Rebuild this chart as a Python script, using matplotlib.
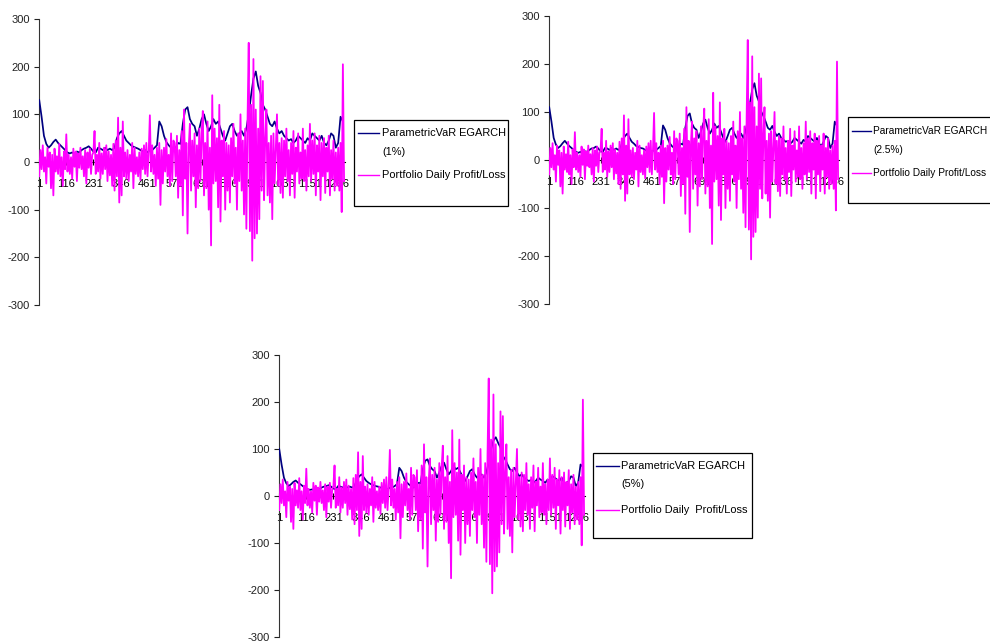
import numpy as np
import matplotlib
matplotlib.use("Agg")
import matplotlib.pyplot as plt
from matplotlib.patches import Rectangle
from matplotlib.lines import Line2D

# ---------------- data ----------------
pnl_step = 5      # one P/L reading every 5 trading days
var_step = 10     # one VaR reading every 10 trading days
n_days = 1300

pnl = [
    -30, 25, -15, 35, -20, 10, -45, 30, -10, 20, -55, 15, -70, 28, -20, 12, -25, 38, -30, 10, -50, 22, -15,
    58, -20, 15, -25, 10, -35, 28, -10, 22, -40, 18, -12, 30, -15, 12, -30, 25, -45, 20, -12, 28, -25, 15,
    20, 65, -25, 15, -20, 40, -35, 18, -25, 30, -15, 35, -40, 22, -28, 15, -50, 38, -60, 45, -30, 93, -85,
    30, -70, 85, -30, 20, -35, 25, -40, 15, -20, 40, -55, 30, -25, 10, -30, 20, -38, 28, -15, 35, -25, 40,
    -30, 20, 98, -20, 35, -25, 15, -50, 30, -35, 40, -90, 25, -45, 30, -20, 48, -30, 15, -50, 60, -40, 45,
    40, -30, 55, -75, 25, -50, 65, -112, 110, -35, 40, -150, 30, 80, -60, 45, -30, 60, -95, 35, -55, 70, -40,
    60, 107, -70, 40, -55, 85, -100, 30, -175, 140, -45, 70, -40, 50, -95, 120, -125, 45, -30, 65, -100, 40, -60,
    35, -85, 50, -30, 80, -45, 30, -100, 60, -40, 100, -60, 45, -110, 70, -140, 90, 250, -145, 120, -207, 216, -160,
    110, -150, 70, -120, 180, -60, 170, -80, 50, 110, -70, 40, -85, 55, -120, 60, -45, 30, 100, -50, 40, -65, 50,
    -75, 45, -30, 70, -40, 25, -70, 40, -25, 65, -75, 30, -20, 60, -45, 20, -35, 70, -40, 25, -60, 35, -30,
    80, -40, 45, -25, 60, -70, 35, -20, 55, -80, 40, -30, 50, -65, 30, -20, 55, -70, 25, -35, 45, -60, 20,
    -50, 30, -60, 40, -105, 205, -40,
]

var_1 = [
    130, 95, 55, 38, 30, 35, 42, 47, 40, 35,
    30, 25, 20, 18, 20, 17, 22, 20, 25, 28,
    30, 33, 28, 22, 20, 30, 28, 25, 30, 25,
    28, 25, 30, 50, 60, 65, 55, 45, 40, 35,
    32, 30, 28, 25, 22, 25, 20, 25, 25, 30,
    35, 85, 75, 55, 42, 35, 30, 25, 30, 40,
    38, 80, 110, 115, 90, 80, 75, 55, 70, 90,
    100, 80, 65, 75, 90, 80, 85, 70, 55, 45,
    60, 75, 80, 65, 55, 60, 65, 55, 70, 100,
    140, 175, 190, 160, 145, 120, 110, 95, 80, 75,
    85, 70, 60, 65, 55, 50, 45, 48, 40, 45,
    55, 50, 45, 40, 50, 45, 60, 55, 50, 45,
    55, 40, 35, 45, 60, 55, 30, 40, 95, 85,
]

var_25 = [
    110, 80, 46, 32, 25, 29, 35, 40, 34, 29,
    25, 21, 17, 15, 17, 14, 18, 17, 21, 24,
    25, 28, 24, 18, 17, 25, 24, 21, 25, 21,
    24, 21, 25, 42, 50, 55, 46, 38, 34, 29,
    27, 25, 24, 21, 18, 21, 17, 21, 21, 25,
    29, 72, 63, 46, 35, 29, 25, 21, 25, 34,
    32, 67, 92, 97, 76, 67, 63, 46, 59, 76,
    84, 67, 55, 63, 76, 67, 71, 59, 46, 38,
    50, 63, 67, 55, 46, 50, 55, 46, 59, 84,
    118, 147, 160, 134, 122, 101, 92, 80, 67, 63,
    71, 59, 50, 55, 46, 42, 38, 40, 34, 38,
    46, 42, 38, 34, 42, 38, 50, 46, 42, 38,
    46, 34, 29, 38, 50, 46, 25, 34, 80, 71,
]

var_5 = [
    100, 67, 39, 27, 21, 25, 30, 33, 28, 25,
    21, 18, 14, 13, 14, 12, 16, 14, 18, 20,
    21, 23, 20, 16, 14, 21, 20, 18, 21, 18,
    20, 18, 21, 35, 42, 46, 39, 32, 28, 25,
    23, 21, 20, 18, 16, 18, 14, 18, 18, 21,
    25, 60, 53, 39, 30, 25, 21, 18, 21, 28,
    27, 57, 75, 78, 64, 57, 53, 39, 50, 64,
    71, 57, 46, 53, 64, 57, 60, 50, 39, 32,
    42, 53, 57, 46, 39, 42, 46, 39, 50, 71,
    99, 118, 125, 113, 103, 85, 78, 67, 57, 53,
    60, 50, 42, 46, 39, 35, 32, 34, 28, 32,
    39, 35, 32, 28, 35, 32, 42, 39, 35, 32,
    39, 28, 25, 32, 42, 39, 21, 28, 67, 62,
]

x_tick_labels = [1, 116, 231, 346, 461, 576, 691, 806, 921, 1036, 1151, 1266]
y_ticks = [-300, -200, -100, 0, 100, 200, 300]
var_labels = ["ParametricVaR EGARCH", "ParametricVaR EGARCH", "ParametricVaR EGARCH"]
var_levels = ["(1%)", "(2.5%)", "(5%)"]
pl_labels = ["Portfolio Daily Profit/Loss", "Portfolio Daily Profit/Loss",
             "Portfolio Daily  Profit/Loss"]

# ---------------- style ----------------
W, H = 990, 644
BLUE = "#000080"
MAGENTA = "#FF00FF"
FONT = ["Liberation Sans", "DejaVu Sans"]
plt.rcParams["font.family"] = FONT
TICK_FS = 8.0

fig = plt.figure(figsize=(W / 100, H / 100), dpi=100)
fig.patch.set_facecolor("white")


def px_axes(left, right, top, bottom):
    return fig.add_axes([left / W, 1 - bottom / H, (right - left) / W, (bottom - top) / H])


def draw_panel(ax, var_series):
    x_pl = 1 + pnl_step * np.arange(len(pnl))
    x_var = 1 + var_step * np.arange(len(var_series))
    ax.plot(x_var, var_series, color=BLUE, lw=1.25, zorder=3)
    ax.plot(x_pl, pnl, color=MAGENTA, lw=1.3, zorder=4)
    ax.set_xlim(0, n_days)
    ax.set_ylim(-300, 300)
    for s in ("top", "right"):
        ax.spines[s].set_visible(False)
    ax.spines["left"].set_color("#333333")
    ax.spines["left"].set_linewidth(0.8)
    ax.spines["bottom"].set_position(("data", 0))
    ax.spines["bottom"].set_color("black")
    ax.spines["bottom"].set_linewidth(0.8)
    ax.spines["bottom"].set_zorder(1)
    ax.set_yticks(y_ticks)
    ax.set_yticklabels([str(v) for v in y_ticks])
    ax.set_xticks(x_tick_labels)
    ax.set_xticklabels([str(v) for v in x_tick_labels])
    ax.set_xticks(np.arange(1, n_days, 23), minor=True)
    ax.tick_params(axis="y", direction="out", length=3.5, width=0.8, pad=3,
                   labelsize=TICK_FS, colors="#222222")
    ax.tick_params(axis="x", which="major", direction="inout", length=5, width=0.8,
                   pad=10, labelsize=TICK_FS, colors="black")
    ax.tick_params(axis="x", which="minor", direction="inout", length=3, width=0.8)
    ax.xaxis.set_zorder(1)
    ax.patch.set_alpha(0)


def draw_legend(box, blue_y, level_y, mag_y, line_x, text_x, idx, fs):
    l, t, r, b = box
    fig.add_artist(Rectangle((l / W, 1 - b / H), (r - l) / W, (b - t) / H,
                             transform=fig.transFigure, facecolor="white",
                             edgecolor="black", lw=0.9, zorder=5))
    fig.add_artist(Line2D([line_x[0] / W, line_x[1] / W], [1 - blue_y / H] * 2,
                          transform=fig.transFigure, color=BLUE, lw=1.0, zorder=6))
    fig.add_artist(Line2D([line_x[0] / W, line_x[1] / W], [1 - mag_y / H] * 2,
                          transform=fig.transFigure, color=MAGENTA, lw=1.0, zorder=6))
    fig.text(text_x / W, 1 - blue_y / H, var_labels[idx], fontsize=fs,
             va="center", ha="left", zorder=7)
    fig.text(text_x / W, 1 - level_y / H, var_levels[idx], fontsize=fs,
             va="center", ha="left", zorder=7)
    fig.text(text_x / W, 1 - mag_y / H, pl_labels[idx], fontsize=fs,
             va="center", ha="left", zorder=7)


ax1 = px_axes(39, 345, 19, 305)
draw_panel(ax1, var_1)
ax2 = px_axes(549, 839, 16, 304)
draw_panel(ax2, var_25)
ax3 = px_axes(279, 585, 355, 637)
draw_panel(ax3, var_5)

draw_legend((354, 120, 508, 206), 133, 152, 175, (358, 379), 382, 0, 7.9)
draw_legend((848, 117, 1000, 203), 131, 150, 173, (852, 871), 873, 1, 7.3)
draw_legend((593, 453, 752, 538), 466, 484, 510, (596, 619), 621, 2, 7.9)

fig.savefig("out.png", dpi=100, facecolor="white")
